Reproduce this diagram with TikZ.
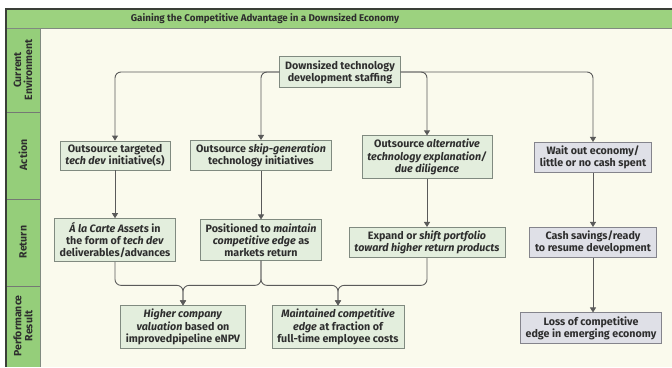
\documentclass[tikz,border=0pt]{standalone}
\usepackage{fontspec}
\setmainfont{Fira Sans}[BoldFont={Fira Sans Bold}, BoldItalicFont={Fira Sans Bold Italic}]
\usetikzlibrary{arrows.meta,positioning}

\definecolor{bandgreen}{HTML}{9CD27F}
\definecolor{sidegreen}{HTML}{95CE7A}
\definecolor{cream}{HTML}{FAFAED}
\definecolor{boxfill}{HTML}{E3EEDD}
\definecolor{boxline}{HTML}{808A80}
\definecolor{waitfill}{HTML}{DFE0E7}
\definecolor{waitline}{HTML}{84848C}
\definecolor{linegray}{HTML}{5A5A5A}
\definecolor{textgray}{HTML}{2E2E2E}
\definecolor{framedark}{HTML}{3A3F38}

\tikzset{
  box/.style={draw=boxline, fill=boxfill, line width=0.8pt, align=center,
    font=\bfseries\fontsize{10.7}{12.2}\selectfont, text=textgray,
    inner xsep=5.5pt, inner ysep=3.5pt},
  waitbox/.style={box, draw=waitline, fill=waitfill},
  conn/.style={draw=linegray, line width=0.9pt, rounded corners=6pt,
    -{Triangle[width=6pt,length=5pt]}},
  rowlabel/.style={rotate=90, align=center, text=textgray,
    font=\bfseries\fontsize{10.5}{11}\selectfont}
}

\begin{document}
\begin{tikzpicture}[x=1pt,y=-1pt]
  \useasboundingbox (0,0) rectangle (672,367);
  \fill[white] (0,0) rectangle (672,367);
  \fill[cream] (40,28) rectangle (672,367);
  \fill[bandgreen] (6,9) rectangle (672,28);
  \fill[sidegreen] (6,28) rectangle (40,367);
  \draw[boxline, line width=0.8pt] (6,28) -- (672,28);
  \draw[boxline, line width=0.8pt] (40,28) -- (40,367);
  \foreach \y in {112,199,286}
    \draw[framedark!70, line width=0.8pt] (6,\y) -- (40,\y);
  \draw[framedark, line width=1.2pt] (672,9) -- (6,9) -- (6,367);

  \node[font=\bfseries\fontsize{9.8}{12}\selectfont, text=textgray] (title) at (265,18.5)
    {Gaining the Competitive Advantage in a Downsized Economy};

  \node[rowlabel] (lblEnv) at (23,70) {Current\\Environment};
  \node[rowlabel] (lblAct) at (23,155) {Action};
  \node[rowlabel] (lblRet) at (23,242) {Return};
  \node[rowlabel] (lblPerf) at (23,326) {Performance\\Result};

  \node[box] (staff) at (340,72) {Downsized technology\\development staffing};

  \node[box] (act1) at (115,155.5) {Outsource targeted\\\textit{tech dev} initiative(s)};
  \node[box] (act2) at (261,155.5) {Outsource \textit{skip-generation}\\technology initiatives};
  \node[box] (act3) at (427,157) {Outsource \textit{alternative}\\\textit{technology explanation/}\\\textit{due diligence}};
  \node[waitbox] (act4) at (593,157.5) {Wait out economy/\\little or no cash spent};

  \node[box] (ret1) at (115,240) {\textit{Á la Carte Assets} in\\the form of \textit{tech dev}\\deliverables/advances};
  \node[box] (ret2) at (261,240) {Positioned to \textit{maintain}\\\textit{competitive edge} as\\markets return};
  \node[box] (ret3) at (427,242.5) {Expand or \textit{shift portfolio}\\\textit{toward higher return products}};
  \node[waitbox] (ret4) at (593,242.5) {Cash savings/ready\\to resume development};

  \node[box] (perf1) at (183,327) {\textit{Higher company}\\\textit{valuation} based on\\improvedpipeline eNPV};
  \node[box] (perf2) at (338,327) {\textit{Maintained competitive}\\\textit{edge} at fraction of\\full-time employee costs};
  \node[waitbox] (perf4) at (591,328) {Loss of competitive\\edge in emerging economy};

  \draw[conn] (staff.west) -| (act1.north);
  \draw[conn] (staff.west) -| (act2.north);
  \draw[conn] (staff.east) -| (act3.north);
  \draw[conn] (staff.east) -| (act4.north);

  \draw[conn] (act1) -- (ret1);
  \draw[conn] (act2) -- (ret2);
  \draw[conn] (act3) -- (ret3);
  \draw[conn] (act4) -- (ret4);
  \draw[conn] (ret4.south) -- (ret4.south |- perf4.north);

  \draw[conn] (ret1.south) |- ([yshift=20pt]perf1.north) -- (perf1.north);
  \draw[conn] (ret2.south) |- ([yshift=20pt]perf1.north) -- (perf1.north);
  \draw[conn] (ret2.south) |- ([yshift=20pt]perf2.north) -- (perf2.north);
  \draw[conn] (ret3.south) |- ([yshift=20pt]perf2.north) -- (perf2.north);
\end{tikzpicture}
\end{document}
